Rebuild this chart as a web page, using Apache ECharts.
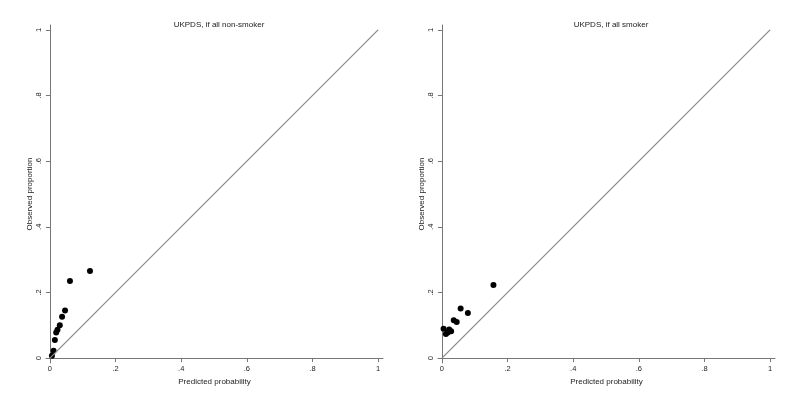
<!DOCTYPE html>
<html><head><meta charset="utf-8">
<script src="https://cdn.jsdelivr.net/npm/echarts@6/dist/echarts.min.js"></script>
<style>html,body{margin:0;padding:0;background:#fff}#c{width:800px;height:400px}</style>
</head><body><div id="c"></div>
<script>
var titles = ['UKPDS, if all non-smoker', 'UKPDS, if all smoker'];
var leftX = [0.006, 0.011, 0.015, 0.019, 0.023, 0.030, 0.037, 0.046, 0.061, 0.122];
var leftY = [0.007, 0.022, 0.055, 0.078, 0.086, 0.100, 0.126, 0.145, 0.235, 0.265];
var rightX = [0.005, 0.012, 0.018, 0.022, 0.028, 0.036, 0.045, 0.057, 0.079, 0.157];
var rightY = [0.089, 0.073, 0.078, 0.087, 0.082, 0.115, 0.110, 0.151, 0.137, 0.223];
var tickValues = [0, 0.2, 0.4, 0.6, 0.8, 1];
var tickLabels = ['0', '.2', '.4', '.6', '.8', '1'];
var diagonal = [[0, 0], [1, 1]];
var xName = 'Predicted probability';
var yName = 'Observed proportion';

var font = 'Liberation Sans, Arial, sans-serif';
function fmt(v) { var i = tickValues.indexOf(v); return i >= 0 ? tickLabels[i] : ''; }
function pairs(xs, ys) { return xs.map(function (x, i) { return [x, ys[i]]; }); }

var grids = [
  {left: 46, top: 25, width: 337, height: 338},
  {left: 438, top: 25, width: 337, height: 338}
];
function xAxis(i) {
  return {
    gridIndex: i, type: 'value', min: -0.012, max: 1.015,
    name: xName, nameLocation: 'middle', nameGap: 12,
    nameTextStyle: {fontFamily: font, fontSize: 8, color: '#222'},
    axisLine: {show: true, lineStyle: {color: '#777', width: 1}},
    axisTick: {show: true, length: 4, customValues: tickValues, lineStyle: {color: '#777'}},
    axisLabel: {customValues: tickValues, formatter: fmt, fontFamily: font, fontSize: 7.5, color: '#222', margin: 2},
    splitLine: {show: false}
  };
}
function yAxis(i) {
  return {
    gridIndex: i, type: 'value', min: -0.015, max: 1.015,
    name: yName, nameLocation: 'middle', nameGap: 12,
    nameTextStyle: {fontFamily: font, fontSize: 8, color: '#222'},
    axisLine: {show: true, lineStyle: {color: '#777', width: 1}},
    axisTick: {show: true, length: 4, customValues: tickValues, lineStyle: {color: '#777'}},
    axisLabel: {customValues: tickValues, formatter: fmt, rotate: 90, fontFamily: font, fontSize: 7.5, color: '#222', margin: 3},
    splitLine: {show: false}
  };
}
var option = {
  backgroundColor: '#fff',
  animation: false,
  title: [
    {text: titles[0], left: 214, top: 16, textAlign: 'center', textStyle: {fontFamily: font, fontSize: 8, fontWeight: 'normal', color: '#222'}},
    {text: titles[1], left: 606, top: 16, textAlign: 'center', textStyle: {fontFamily: font, fontSize: 8, fontWeight: 'normal', color: '#222'}}
  ],
  grid: grids,
  xAxis: [xAxis(0), xAxis(1)],
  yAxis: [yAxis(0), yAxis(1)],
  series: [
    {type: 'line', xAxisIndex: 0, yAxisIndex: 0, data: diagonal, showSymbol: false, lineStyle: {color: '#888', width: 1.2}, silent: true},
    {type: 'scatter', xAxisIndex: 0, yAxisIndex: 0, data: pairs(leftX, leftY), symbolSize: 6, itemStyle: {color: '#000', opacity: 1}},
    {type: 'line', xAxisIndex: 1, yAxisIndex: 1, data: diagonal, showSymbol: false, lineStyle: {color: '#888', width: 1.2}, silent: true},
    {type: 'scatter', xAxisIndex: 1, yAxisIndex: 1, data: pairs(rightX, rightY), symbolSize: 6, itemStyle: {color: '#000', opacity: 1}}
  ]
};
echarts.init(document.getElementById('c'), null, {renderer: 'canvas'}).setOption(option);
</script></body></html>
